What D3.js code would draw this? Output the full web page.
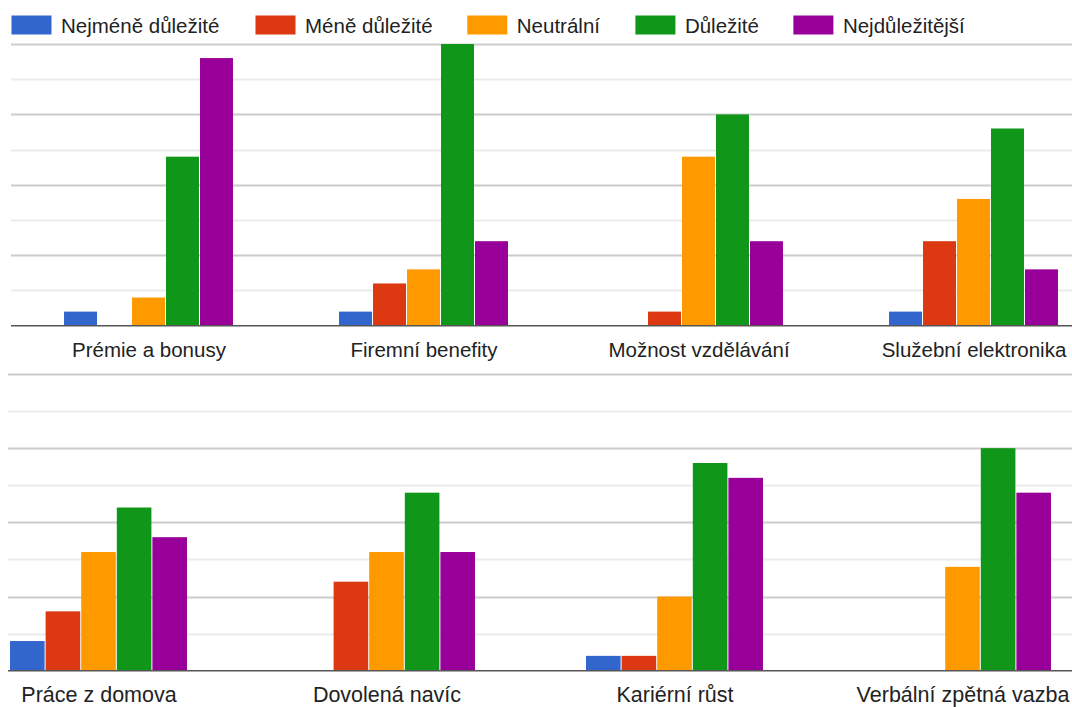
<!DOCTYPE html>
<html lang="cs">
<head>
<meta charset="utf-8">
<script src="https://cdn.jsdelivr.net/npm/d3@7"></script>
<style>
  html, body { margin: 0; padding: 0; background: #fff; }
  svg { display: block; font-family: "Liberation Sans", Arial, sans-serif; }
</style>
</head>
<body>
<svg id="chart" width="1072" height="707"></svg>
<script>
// Response levels (legend order) and their colours
const seriesNames = ["Nejméně důležité", "Méně důležité", "Neutrální", "Důležité", "Nejdůležitější"];
const seriesColors = ["#3366cc", "#dc3912", "#ff9900", "#109618", "#990099"];

// Upper row of benefits
const topCategories = ["Prémie a bonusy", "Firemní benefity", "Možnost vzdělávání", "Služební elektronika"];
const topValues = [
  [1, 0, 2, 12, 19],
  [1, 3, 4, 20, 6],
  [0, 1, 12, 15, 6],
  [1, 6, 9, 14, 4]
];

// Lower row of benefits
const bottomCategories = ["Práce z domova", "Dovolená navíc", "Kariérní růst", "Verbální zpětná vazba"];
const bottomValues = [
  [2, 4, 8, 11, 9],
  [0, 6, 8, 12, 8],
  [1, 1, 5, 14, 13],
  [0, 0, 7, 15, 12]
];

// Value axis ticks (no labels are shown, gridlines only)
const yTicks = [0, 2.5, 5, 7.5, 10, 12.5, 15, 17.5, 20];
const yMax = 20;

const svg = d3.select("#chart");
const W = 1072;

// Legend
const legendX = [11.5, 255.5, 467.3, 635.4, 793.4];
const legend = svg.append("g");
seriesNames.forEach((name, i) => {
  const g = legend.append("g").attr("transform", `translate(${legendX[i]},0)`);
  g.append("rect").attr("x", 0).attr("y", 15.5).attr("width", 40).attr("height", 19)
    .attr("fill", seriesColors[i]);
  g.append("text").attr("x", 49.5).attr("y", 32.5)
    .attr("font-size", 20.5).attr("fill", "#222").text(name);
});

function drawPanel(cfg) {
  const g = svg.append("g");
  const y = d3.scaleLinear().domain([0, yMax]).range([cfg.bottom, cfg.top]);
  const x0 = d3.scaleBand().domain(cfg.categories).range(cfg.xRange)
    .paddingInner(0.382).paddingOuter(0.191);
  const x1 = d3.scaleBand().domain(d3.range(seriesNames.length)).range([0, x0.bandwidth()]);

  // gridlines: darker at multiples of 5, lighter in between
  g.append("g").selectAll("line").data(yTicks.filter(t => t > 0)).join("line")
    .attr("x1", cfg.gridStart).attr("x2", W)
    .attr("y1", d => Math.round(y(d)) + 0.5).attr("y2", d => Math.round(y(d)) + 0.5)
    .attr("stroke", d => d % 5 === 0 ? "#cccccc" : "#ebebeb")
    .attr("stroke-width", 2);

  // bars
  const groups = g.append("g").selectAll("g").data(cfg.categories).join("g")
    .attr("transform", d => `translate(${x0(d)},0)`);
  groups.selectAll("rect")
    .data((d, ci) => cfg.values[ci].map((v, si) => ({ v, si })))
    .join("rect")
    .attr("x", d => x1(d.si))
    .attr("width", x1.bandwidth() - 1)
    .attr("y", d => y(d.v))
    .attr("height", d => y(0) - y(d.v))
    .attr("fill", d => seriesColors[d.si]);

  // baseline
  g.append("line")
    .attr("x1", cfg.gridStart).attr("x2", W)
    .attr("y1", y(0)).attr("y2", y(0))
    .attr("stroke", "#555").attr("stroke-width", 1.5);

  // category labels
  g.append("g").selectAll("text").data(cfg.categories).join("text")
    .attr("x", d => x0(d) + x0.bandwidth() / 2)
    .attr("y", y(0) + cfg.labelOffset)
    .attr("text-anchor", "middle")
    .attr("font-size", cfg.labelSize).attr("fill", "#222")
    .text(d => d);
}

drawPanel({
  categories: topCategories, values: topValues,
  top: 44, bottom: 325.7, xRange: [11.5, 1111.5], gridStart: 11,
  labelSize: 20.5, labelOffset: 31
});
drawPanel({
  categories: bottomCategories, values: bottomValues,
  top: 374, bottom: 670.7, xRange: [-45, 1107], gridStart: 8,
  labelSize: 21.5, labelOffset: 31.5
});
</script>
</body>
</html>
